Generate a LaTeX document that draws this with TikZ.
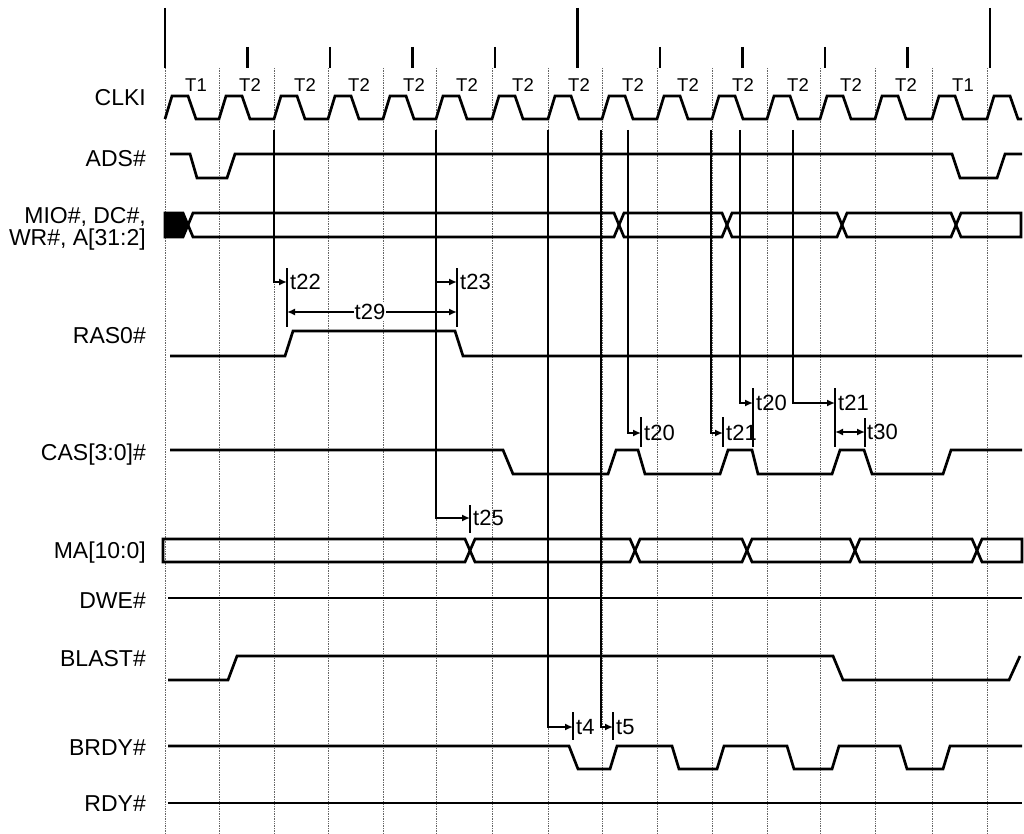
\documentclass[tikz,border=0pt]{standalone}
\usepackage{fontspec}
\setmainfont{Liberation Sans}
\usetikzlibrary{arrows.meta}

\newcommand{\clkedges}{165,219,274,328,383,436,492,548,602,657,712,767,820,875,932,987}

\begin{document}
\begin{tikzpicture}[x=1pt,y=-1pt,
	sig/.style={line width=2.7pt},
	clkgrid/.style={densely dotted,line width=0.7pt,black!60},
	tick/.style={line width=2.3pt},
	tline/.style={line width=2pt},
	tbar/.style={line width=2pt},
	tip/.style={-{Latex[length=8pt,width=7pt]}},
	siglbl/.style={anchor=east,inner sep=0pt,font=\fontsize{23}{20}\selectfont,text height=16.5pt,text depth=0pt},
	tlbl/.style={anchor=west,inner sep=0pt,xshift=3pt,font=\fontsize{22}{22}\selectfont,text height=15.5pt,text depth=0pt},
	phlbl/.style={inner sep=0pt,font=\fontsize{18.5}{18.5}\selectfont,text height=13.2pt,text depth=0pt}]
	\useasboundingbox (0,0) rectangle (1024,834);
	
	% clock grid, ticks and phases
	\foreach \e in \clkedges
	\draw[clkgrid] (\e,68) -- (\e,834);
	\foreach \i in {0,...,10}
	\draw[tick] ({165+82.5*\i},47) -- ({165+82.5*\i},68);
	\foreach \i in {0,5,10}
	\draw[tick] ({165+82.5*\i},8) -- ({165+82.5*\i},68);
	\foreach \e/\ph [count=\k] in {165/T1,219/T2,274/T2,328/T2,383/T2,436/T2,492/T2,548/T2,602/T2,657/T2,712/T2,767/T2,820/T2,875/T2,932/T1}
	\node[phlbl] (ph\k) at ({\e+31},85) {\ph};
	
	% signal names
	\node[siglbl] (clki) at (146,97) {CLKI};
	\node[siglbl] (ads) at (146,158) {ADS\#};
	\node[anchor=east,inner sep=0pt,align=right,font=\fontsize{23}{21.5}\selectfont] (addr) at (146,229) {MIO\#, DC\#,\\WR\#, A[31:2]};
	\node[siglbl] (ras) at (146,335) {RAS0\#};
	\node[siglbl] (cas) at (146,452) {CAS[3:0]\#};
	\node[siglbl] (ma) at (146,550) {MA[10:0]};
	\node[siglbl] (dwe) at (146,600) {DWE\#};
	\node[siglbl] (blast) at (146,658) {BLAST\#};
	\node[siglbl] (brdy) at (146,747) {BRDY\#};
	\node[siglbl] (rdy) at (146,803) {RDY\#};
	
	% waveforms
	\draw[sig] (165,119) \foreach \e in \clkedges {-- (\e,119) -- ({\e+7},96) -- ({\e+23},96) -- ({\e+31},119)} -- (1022,119);
	\draw[sig] (170,154) -- (190,154) -- (197,178) -- (227,178) -- (235,154) -- (952,154) -- (960,178) -- (997,178) -- (1005,154) -- (1022,154);
	\filldraw[sig] (165,213) -- (183,213) -- (188,225) -- (183,237) -- (165,237) -- cycle;
	\foreach \a/\b in {188/619,619/727,727/842,842/956}
	\draw[sig] (\a,225) -- ({\a+5},213) -- ({\b-5},213) -- (\b,225) -- ({\b-5},237) -- ({\a+5},237) -- cycle;
	\draw[sig] (956,225) -- (961,213) -- (1021,213) -- (1021,237) -- (961,237) -- cycle;
	\draw[sig] (170,356) -- (285,356) -- (293,331) -- (455,331) -- (463,356) -- (1022,356);
	\draw[sig] (170,450) -- (503,450) -- (513,474) -- (608,474) -- (616,450) -- (638,450) -- (645,474) -- (720,474) -- (728,450) -- (752,450) -- (758,474) -- (832,474) -- (840,450) -- (864,450) -- (872,474) -- (943,474) -- (951,450) -- (1022,450);
	\draw[sig] (163,539) -- (465,539) -- (470,550.5) -- (465,562) -- (163,562) -- cycle;
	\foreach \a/\b in {470/635,635/747,747/855,855/977}
	\draw[sig] (\a,550.5) -- ({\a+5},539) -- ({\b-5},539) -- (\b,550.5) -- ({\b-5},562) -- ({\a+5},562) -- cycle;
	\draw[sig] (977,550.5) -- (982,539) -- (1022,539) -- (1022,562) -- (982,562) -- cycle;
	\draw[sig] (168,598) -- (1022,598);
	\draw[sig] (168,680) -- (228,680) -- (237,656) -- (833,656) -- (843,680) -- (1009,680) -- (1020,656);
	\draw[sig] (168,746) -- (569,746) -- (578,769) -- (610,769) -- (617,746) -- (672,746) -- (679,769) -- (717,769) -- (724,746) -- (787,746) -- (794,769) -- (832,769) -- (839,746) -- (900,746) -- (907,769) -- (943,769) -- (950,746) -- (1022,746);
	\draw[sig] (168,803) -- (1022,803);
	
	% timing marks
	\foreach \sx/\ay/\bx/\bt/\bb/\txt/\n in {274/282/287/268/327/t22/a,436/282/457/268/327/t23/b,436/518/470/505/533/t25/c,548/727/573/712/740/t4/d,601/727/613/712/740/t5/e,628/433/641/417/447/t20/f,711/433/723/417/447/t21/g,740/403/753/388/447/t20/h,793/403/835/388/447/t21/i}{
		\coordinate (src\n) at (\sx,130);
		\coordinate (end\n) at (\bx,\ay);
		\draw[tline,tip] (src\n) |- (end\n);
		\draw[tbar] (\bx,\bt) -- (\bx,\bb);
		\node[tlbl] (lbl\n) at (end\n) {\txt};
	}
	\coordinate (w29a) at (287,312);
	\coordinate (w29b) at (457,312);
	\draw[tline,{Latex[length=8pt,width=7pt]}-{Latex[length=8pt,width=7pt]}] (w29a) -- (w29b);
	\node[fill=white,inner sep=1pt,font=\fontsize{22}{22}\selectfont,text height=15.5pt,text depth=0pt] (lbl29) at (370,312) {t29};
	\coordinate (w30a) at (835,432);
	\coordinate (w30b) at (865,432);
	\draw[tline,{Latex[length=8pt,width=7pt]}-{Latex[length=8pt,width=7pt]}] (w30a) -- (w30b);
	\draw[tbar] (865,418) -- (865,447);
	\node[tlbl,xshift=-1pt] (lbl30) at (w30b) {t30};
\end{tikzpicture}
\end{document}
